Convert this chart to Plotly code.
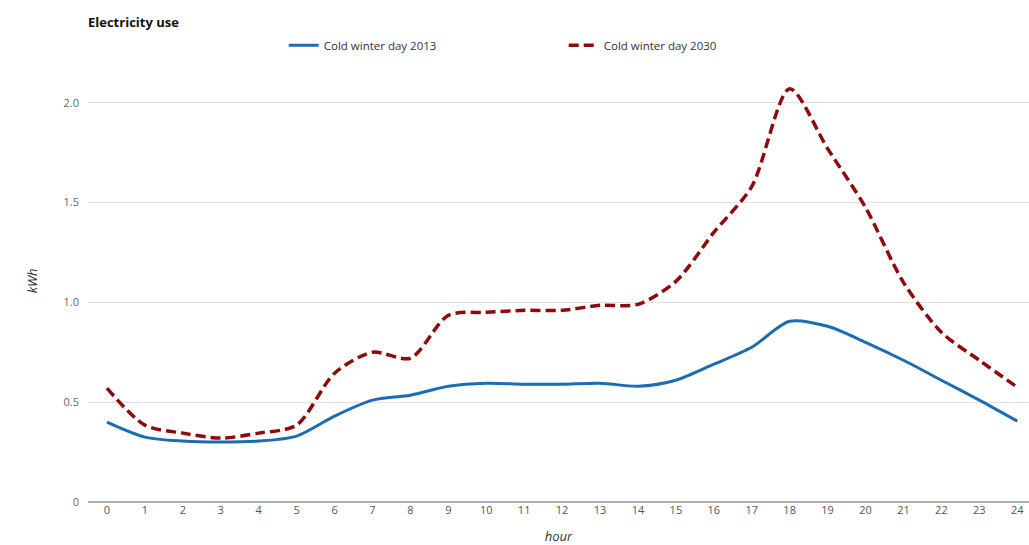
import plotly.graph_objects as go

hours = list(range(25))
tick_labels = [str(h) for h in hours]

use_2013 = [0.40, 0.325, 0.305, 0.30, 0.305, 0.33, 0.43, 0.51, 0.535, 0.58, 0.595, 0.59,
            0.59, 0.595, 0.58, 0.61, 0.69, 0.775, 0.905, 0.88, 0.80, 0.71, 0.61, 0.51, 0.405]
use_2030 = [0.57, 0.385, 0.345, 0.32, 0.345, 0.385, 0.645, 0.75, 0.72, 0.935, 0.95, 0.96,
            0.96, 0.985, 0.99, 1.105, 1.35, 1.58, 2.07, 1.77, 1.475, 1.10, 0.85, 0.71, 0.575]

y_ticks = [0, 0.5, 1.0, 1.5, 2.0]
y_tick_labels = ["0", "0.5", "1.0", "1.5", "2.0"]

FONT = "Open Sans, DejaVu Sans, sans-serif"

fig = go.Figure()
fig.add_trace(go.Scatter(
    x=hours, y=use_2013, mode="lines", name="Cold winter day 2013",
    line=dict(color="#1c6cb4", width=3, shape="spline", smoothing=0.8),
))
fig.add_trace(go.Scatter(
    x=hours, y=use_2030, mode="lines", name="Cold winter day 2030",
    line=dict(color="#8f0a0a", width=3.5, shape="spline", smoothing=0.8, dash="10px,5px"),
))

fig.update_layout(
    width=1029, height=545,
    margin=dict(l=88, r=0, t=58, b=43),
    paper_bgcolor="white", plot_bgcolor="white",
    font=dict(family=FONT, size=11, color="#444"),
    showlegend=True,
    legend=dict(
        orientation="h", x=0.208, y=0.917, xanchor="left", yanchor="middle",
        yref="container", entrywidth=235, entrywidthmode="pixels",
        font=dict(size=11.5, color="#333"), bgcolor="rgba(0,0,0,0)",
    ),
    xaxis=dict(
        range=[-0.5, 24.31], tickmode="array", tickvals=hours, ticktext=tick_labels,
        showgrid=False, zeroline=False, showline=False, ticks="",
        tickfont=dict(size=11, color="#555"),
        title=dict(text="<i>hour</i>", font=dict(size=13, color="#333"), standoff=17),
    ),
    yaxis=dict(
        range=[0, 2.215], tickmode="array", tickvals=y_ticks, ticktext=y_tick_labels,
        showgrid=True, gridcolor="#e2e2e2", gridwidth=1,
        zeroline=True, zerolinecolor="#b0b0b0", zerolinewidth=2,
        showline=False, ticks="", ticklabelstandoff=8,
        tickfont=dict(size=11, color="#666"),
        title=dict(text="<i>kWh</i>", font=dict(size=13, color="#333"), standoff=22),
    ),
)

fig.add_annotation(
    text="<b>Electricity use</b>", xref="paper", yref="paper",
    x=0, y=1, xshift=-2, yshift=38, xanchor="left", yanchor="middle",
    showarrow=False, font=dict(family=FONT, size=13, color="#111"),
)

fig.write_html("out.html")
